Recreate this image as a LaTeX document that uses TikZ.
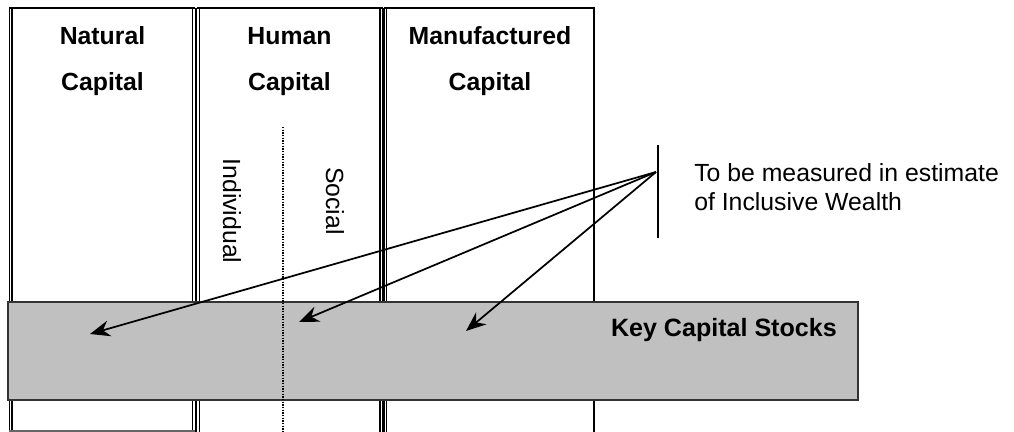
\documentclass[tikz,border=0pt]{standalone}
\usepackage{fontspec}
\setmainfont{Liberation Sans}
\usetikzlibrary{arrows.meta}
\definecolor{stockgray}{RGB}{192,192,192}

\begin{document}
\begin{tikzpicture}[x=0.75pt, y=-0.75pt,
    every node/.style={inner sep=0pt, font=\fontsize{18.6}{22}\selectfont},
    title/.style={align=center, font=\fontsize{18.6}{35}\selectfont\bfseries},
    colline/.style={line width=0.9pt},
    pointer/.style={line width=1.3pt, -{Stealth[length=15pt, width=12pt, inset=5pt]}}]
  \useasboundingbox (0,0) rectangle (1014,432);

  % columns: double rules on the sides, plain top
  \foreach \x in {10.5, 193.8, 198, 381.3, 385.4} {
    \draw[colline] (\x-1.4,8) -- (\x-1.4,440);
    \draw[colline] (\x+1.4,8) -- (\x+1.4,440);
  }
  \draw[line width=1.4pt] (594,8) -- (594,440);
  \draw[line width=1.4pt] (9,8) -- (195.2,8) (196.6,8) -- (382.7,8) (384,8) -- (594.7,8);
  \draw[colline, black!60] (9,431) -- (195.2,431);

  \node[title] (natural) at (102.5,61) {\vphantom{l}Natural\\Capital};
  \node[title] (human) at (289.5,61) {\vphantom{l}Human\\Capital};
  \node[title] (manufactured) at (490,61) {\vphantom{l}Manufactured\\Capital};

  \node[rotate=-90] (individual) at (232,211) {Individual};
  \node[rotate=-90] (social) at (335,201) {Social};

  % the stocks band over the columns
  \node[draw=black!80, line width=1pt, fill=stockgray, minimum width=850*0.75pt,
        minimum height=98*0.75pt] (stocks) at (433,351) {};
  \node[anchor=east, font=\fontsize{18.8}{22}\selectfont\bfseries] (stockslabel) at (837,330) {Key Capital Stocks};

  \draw[line width=0.9pt, dash pattern=on 1pt off 1pt] (283,127) -- (283,432);

  % estimate marker and its pointers
  \draw[line width=1.2pt] (658,145) -- (658,238);
  \coordinate (src) at (656,172);
  \coordinate (natural tip) at (90,334);
  \coordinate (human tip) at (299,322);
  \coordinate (manufactured tip) at (466,331);
  \foreach \t in {natural tip, human tip, manufactured tip}
    \draw[pointer] (src) -- (\t);

  \node[anchor=west, align=left, font=\fontsize{18.6}{21.5}\selectfont] (note) at (694,187)
    {To be measured in estimate\\of Inclusive Wealth};
\end{tikzpicture}
\end{document}
